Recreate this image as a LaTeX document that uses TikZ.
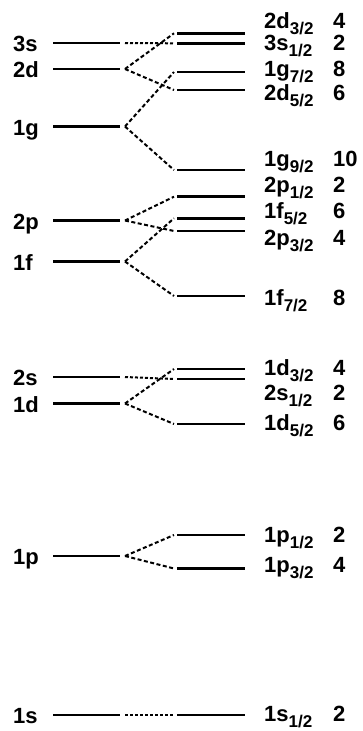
\documentclass[tikz,border=0pt]{standalone}
\usepackage{fontspec}
\setmainfont{Liberation Sans}
\newcommand{\lsub}[1]{\raisebox{-6.5pt}{\fontsize{17}{17}\selectfont\bfseries #1}}
\tikzset{
  lvl/.style={line width=2.6pt},
  split/.style={line width=2pt, dash pattern=on 4pt off 2.5pt},
  same/.style={line width=2pt, dash pattern=on 3pt off 2pt},
  lab/.style={font=\fontsize{22}{22}\selectfont\bfseries, inner sep=0pt, anchor=base west},
}
\begin{document}
\begin{tikzpicture}[x=1pt,y=-1pt]
\useasboundingbox[fill=white] (0,0) rectangle (363,731);
% left (unsplit) levels
\foreach \n/\y in {3s/43,2d/69,1g/126.5,2p/220.5,1f/261.5,2s/377,1d/403.5,1p/556,1s/715}{
  \coordinate (\n-a) at (53,\y);
  \coordinate (\n-b) at (120,\y);
  \coordinate (\n-c) at (125,\y);
  \draw[lvl] (\n-a) -- (\n-b);
  \node[lab] (\n-lab) at (13,\y+8.5) {\n};
}
% right (split) levels
\foreach \n/\y/\b/\m/\s/\g in {
  d32/33.3/28/2d/3/4, s3/43.3/50/3s/1/2, g72/72/76/1g/7/8, d52/90/100/2d/5/6,
  g92/170/166/1g/9/10, p12/196.7/192/2p/1/2, f52/218.3/218/1f/5/6, p32/231/245/2p/3/4,
  f72/296/305/1f/7/8, dd32/369/375/1d/3/4, s12/379/400/2s/1/2, dd52/424/430/1d/5/6,
  pp12/535/542/1p/1/2, pp32/568.5/572/1p/3/4, ss12/715/721/1s/1/2}{
  \coordinate (\n-a) at (174,\y);
  \coordinate (\n-s) at (177,\y);
  \coordinate (\n-e) at (245,\y);
  \draw[lvl] (\n-s) -- (\n-e);
  \node[lab] (\n-lab) at (264,\b) {\m\lsub{\s/2}};
  \node[lab] (\n-num) at (333,\b) {\g};
}
% connectors
\draw[same] (3s-c) -- (s3-a);
\draw[split] (2d-c) -- (d32-a);
\draw[split] (2d-c) -- (d52-a);
\draw[split] (1g-c) -- (g72-a);
\draw[split] (1g-c) -- (g92-a);
\draw[split] (2p-c) -- (p12-a);
\draw[split] (2p-c) -- (p32-a);
\draw[split] (1f-c) -- (f52-a);
\draw[split] (1f-c) -- (f72-a);
\draw[same] (2s-c) -- (s12-a);
\draw[split] (1d-c) -- (dd32-a);
\draw[split] (1d-c) -- (dd52-a);
\draw[split] (1p-c) -- (pp12-a);
\draw[split] (1p-c) -- (pp32-a);
\draw[same] (1s-c) -- (ss12-a);
\end{tikzpicture}
\end{document}
